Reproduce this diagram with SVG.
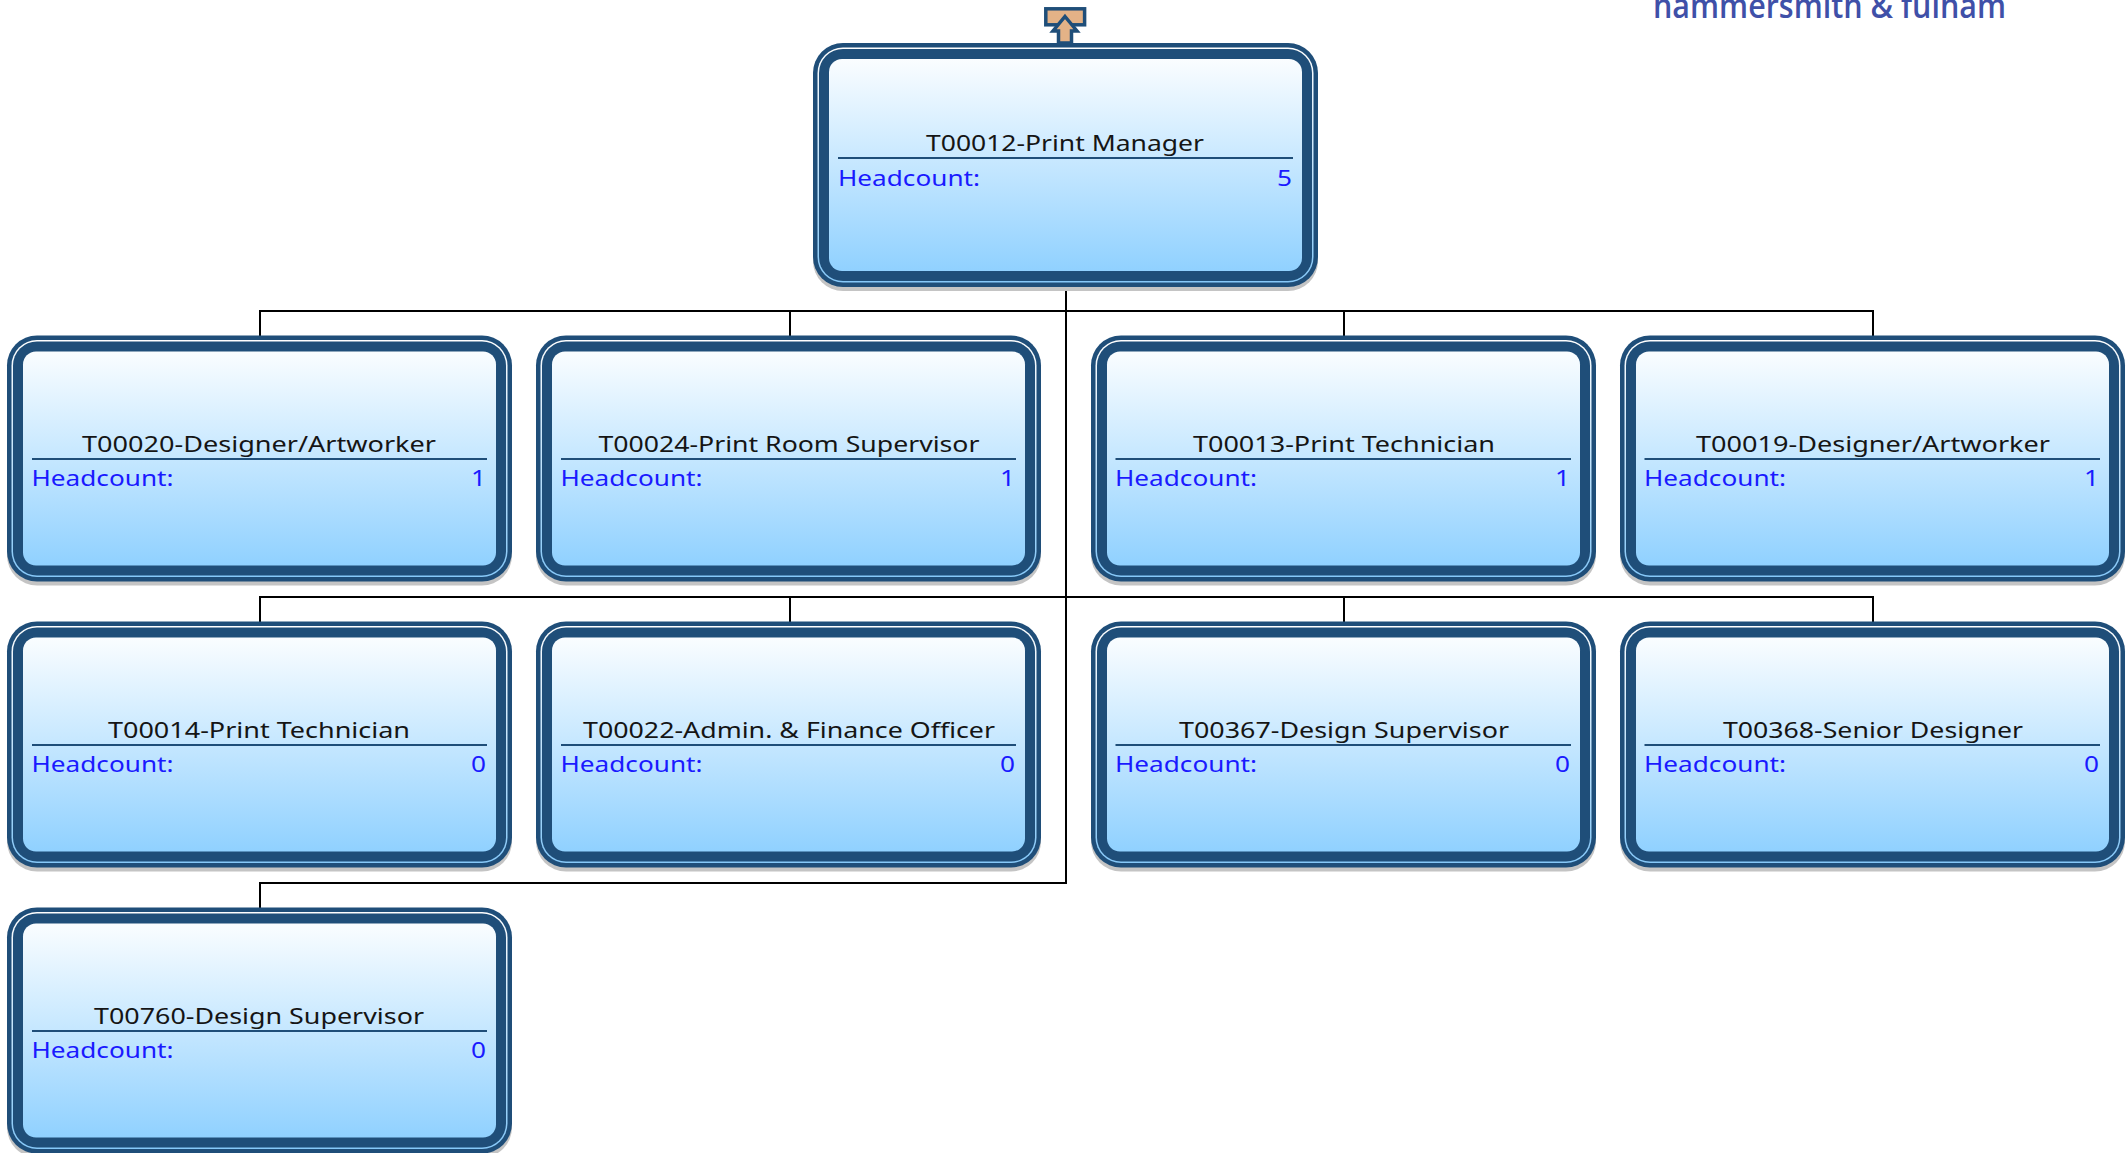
<svg xmlns="http://www.w3.org/2000/svg" xmlns:xlink="http://www.w3.org/1999/xlink" width="2127" height="1153" viewBox="0 0 2127 1153">
<style>
.t{font-family:"Noto Sans","DejaVu Sans",sans-serif;font-size:22px;fill:#151515;text-anchor:middle}
.h{font-family:"Noto Sans","DejaVu Sans",sans-serif;font-size:22px;fill:#1a1aff}
.v{text-anchor:end}
.c{fill:none;stroke:#000;stroke-width:2}
.d{stroke:#1f4e79;stroke-width:2}
</style>
<defs>
<linearGradient id="f" x1="0" y1="0" x2="0" y2="1"><stop offset="0" stop-color="#fafdff"/><stop offset="1" stop-color="#90d1ff"/></linearGradient>
<linearGradient id="g" x1="0" y1="0" x2="0" y2="1"><stop offset="0" stop-color="#ffffff"/><stop offset="1" stop-color="#86c8f8"/></linearGradient>
<g id="box">
<rect x="0" y="4" width="505" height="246" rx="30" fill="#c4c4c4"/>
<rect x="0" y="0" width="505" height="246" rx="30" fill="#1f4e79"/>
<rect x="4.500" y="4.500" width="496" height="237" rx="25.500" fill="url(#g)"/>
<rect x="6" y="6" width="493" height="234" rx="24" fill="#1f4e79"/>
<rect x="16" y="16" width="473" height="214" rx="13" fill="url(#f)"/>
</g>
<g id="top">
<rect x="0" y="4" width="505" height="244" rx="30" fill="#c4c4c4"/>
<rect x="0" y="0" width="505" height="244" rx="30" fill="#1f4e79"/>
<rect x="4.500" y="4.500" width="496" height="235" rx="25.500" fill="url(#g)"/>
<rect x="6" y="6" width="493" height="232" rx="24" fill="#1f4e79"/>
<rect x="16" y="16" width="473" height="212" rx="13" fill="url(#f)"/>
</g>
</defs>
<g id="connectors">
<path class="c" d="M1066 287V883H260V908"/>
<path class="c" d="M260 336V311H1873V336M790 311V336M1344 311V336"/>
<path class="c" d="M260 622V597H1873V622M790 597V622M1344 597V622"/>
</g>
<g id="up-link">
<rect x="1045.800" y="8.800" width="38.800" height="16" fill="#e3b287" stroke="#1f4e79" stroke-width="3.500"/>
<path d="M1065 16.500L1077 31H1071.500V43H1058.500V31H1053Z" fill="#e3b287" stroke="#1f4e79" stroke-width="3.500"/>
</g>
<text id="logo" x="1653" y="18" font-family="'Open Sans','Noto Sans',sans-serif" font-size="35" font-weight="600" fill="#3f50a8" textLength="353" lengthAdjust="spacingAndGlyphs">hammersmith &amp; fulham</text>

<g id="n12"><use href="#top" x="813" y="43"/><text class="t" x="1065" y="151" textLength="278" lengthAdjust="spacingAndGlyphs">T00012-Print Manager</text><path class="d" d="M838 158H1293"/><text class="h" x="838" y="186" textLength="142" lengthAdjust="spacingAndGlyphs">Headcount:</text><text class="h v" x="1292" y="186" textLength="15" lengthAdjust="spacingAndGlyphs">5</text></g>

<g id="n20"><use href="#box" x="7" y="335.500"/><text class="t" x="259" y="451.500" textLength="354" lengthAdjust="spacingAndGlyphs">T00020-Designer/Artworker</text><path class="d" d="M32 459H487"/><text class="h" x="31.500" y="485.500" textLength="142" lengthAdjust="spacingAndGlyphs">Headcount:</text><text class="h v" x="486" y="485.500" textLength="15" lengthAdjust="spacingAndGlyphs">1</text></g>
<g id="n24"><use href="#box" x="536" y="335.500"/><text class="t" x="789" y="451.500" textLength="381" lengthAdjust="spacingAndGlyphs">T00024-Print Room Supervisor</text><path class="d" d="M561 459H1016"/><text class="h" x="560.500" y="485.500" textLength="142" lengthAdjust="spacingAndGlyphs">Headcount:</text><text class="h v" x="1015" y="485.500" textLength="15" lengthAdjust="spacingAndGlyphs">1</text></g>
<g id="n13"><use href="#box" x="1091" y="335.500"/><text class="t" x="1344" y="451.500" textLength="302" lengthAdjust="spacingAndGlyphs">T00013-Print Technician</text><path class="d" d="M1115.500 459H1571"/><text class="h" x="1115" y="485.500" textLength="142" lengthAdjust="spacingAndGlyphs">Headcount:</text><text class="h v" x="1570" y="485.500" textLength="15" lengthAdjust="spacingAndGlyphs">1</text></g>
<g id="n19"><use href="#box" x="1620" y="335.500"/><text class="t" x="1873" y="451.500" textLength="354" lengthAdjust="spacingAndGlyphs">T00019-Designer/Artworker</text><path class="d" d="M1644.500 459H2100"/><text class="h" x="1644" y="485.500" textLength="142" lengthAdjust="spacingAndGlyphs">Headcount:</text><text class="h v" x="2099" y="485.500" textLength="15" lengthAdjust="spacingAndGlyphs">1</text></g>

<g id="n14"><use href="#box" x="7" y="621.500"/><text class="t" x="259" y="737.500" textLength="302" lengthAdjust="spacingAndGlyphs">T00014-Print Technician</text><path class="d" d="M32 745H487"/><text class="h" x="31.500" y="771.500" textLength="142" lengthAdjust="spacingAndGlyphs">Headcount:</text><text class="h v" x="486" y="771.500" textLength="15" lengthAdjust="spacingAndGlyphs">0</text></g>
<g id="n22"><use href="#box" x="536" y="621.500"/><text class="t" x="789" y="737.500" textLength="412" lengthAdjust="spacingAndGlyphs">T00022-Admin. &amp; Finance Officer</text><path class="d" d="M561 745H1016"/><text class="h" x="560.500" y="771.500" textLength="142" lengthAdjust="spacingAndGlyphs">Headcount:</text><text class="h v" x="1015" y="771.500" textLength="15" lengthAdjust="spacingAndGlyphs">0</text></g>
<g id="n367"><use href="#box" x="1091" y="621.500"/><text class="t" x="1344" y="737.500" textLength="330" lengthAdjust="spacingAndGlyphs">T00367-Design Supervisor</text><path class="d" d="M1115.500 745H1571"/><text class="h" x="1115" y="771.500" textLength="142" lengthAdjust="spacingAndGlyphs">Headcount:</text><text class="h v" x="1570" y="771.500" textLength="15" lengthAdjust="spacingAndGlyphs">0</text></g>
<g id="n368"><use href="#box" x="1620" y="621.500"/><text class="t" x="1873" y="737.500" textLength="300" lengthAdjust="spacingAndGlyphs">T00368-Senior Designer</text><path class="d" d="M1644.500 745H2100"/><text class="h" x="1644" y="771.500" textLength="142" lengthAdjust="spacingAndGlyphs">Headcount:</text><text class="h v" x="2099" y="771.500" textLength="15" lengthAdjust="spacingAndGlyphs">0</text></g>

<g id="n760"><use href="#box" x="7" y="907.500"/><text class="t" x="259" y="1023.500" textLength="330" lengthAdjust="spacingAndGlyphs">T00760-Design Supervisor</text><path class="d" d="M32 1031H487"/><text class="h" x="31.500" y="1057.500" textLength="142" lengthAdjust="spacingAndGlyphs">Headcount:</text><text class="h v" x="486" y="1057.500" textLength="15" lengthAdjust="spacingAndGlyphs">0</text></g>
</svg>
